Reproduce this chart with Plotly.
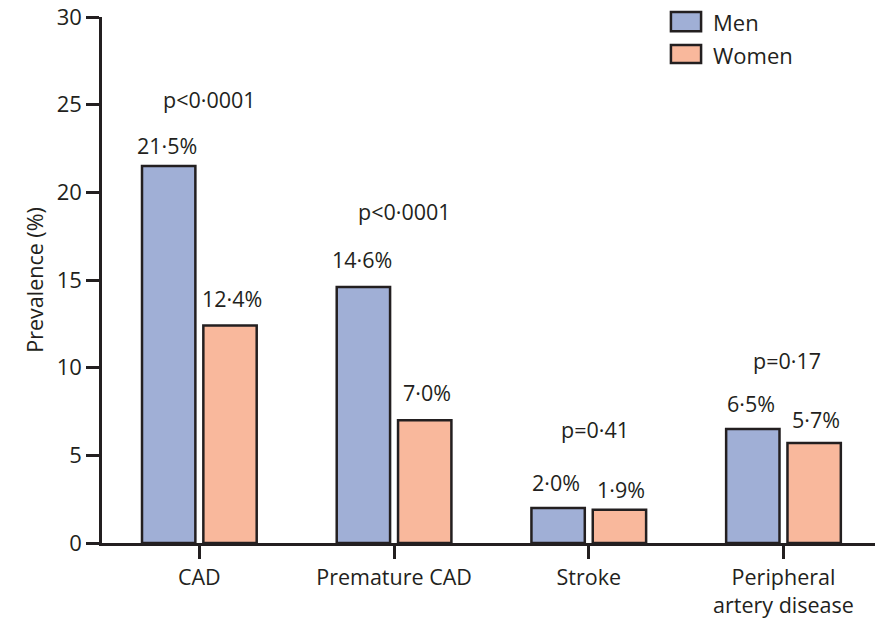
import plotly.graph_objects as go

categories = ["CAD", "Premature CAD", "Stroke", "Peripheral<br>artery disease"]
men = [21.5, 14.6, 2.0, 6.5]
women = [12.4, 7.0, 1.9, 5.7]
p_labels = ["p<0·0001", "p<0·0001", "p=0·41", "p=0·17"]
y_ticks = [0, 5, 10, 15, 20, 25, 30]
series_names = ["Men", "Women"]

# annotation placement (layout only)
p_label_y = [25.3, 18.9, 6.45, 10.4]
p_label_dx = [0.05, 0.055, 0.03, 0.02]
men_label_shift = [23, 30, 27, 28]
women_label_shift = [29, 30, 22, 26]

FONT = "Open Sans"
INK = "#231F20"
MEN_C = "#A0AFD6"
WOMEN_C = "#F9B89C"
FS = 21.5

def fmt(v):
    return f"{v:.1f}".replace(".", "·") + "%"

x_idx = list(range(len(categories)))

fig = go.Figure()
fig.add_trace(go.Bar(name=series_names[0], x=x_idx, y=men, marker=dict(color=MEN_C, line=dict(color=INK, width=2.5))))
fig.add_trace(go.Bar(name=series_names[1], x=x_idx, y=women, marker=dict(color=WOMEN_C, line=dict(color=INK, width=2.5))))

off = 0.167
for i in x_idx:
    fig.add_annotation(x=i - off, y=men[i], text=fmt(men[i]), showarrow=False, yanchor="middle",
                       yshift=men_label_shift[i] - 2,
                       xref="x", yref="y", font=dict(size=FS, color=INK, family=FONT))
    fig.add_annotation(x=i + off, y=women[i], text=fmt(women[i]), showarrow=False, yanchor="middle",
                       yshift=women_label_shift[i] - 2,
                       xref="x", yref="y", font=dict(size=FS, color=INK, family=FONT))
    fig.add_annotation(x=i + p_label_dx[i], y=p_label_y[i], text=p_labels[i], showarrow=False,
                       yanchor="middle", xref="x", yref="y", font=dict(size=FS, color=INK, family=FONT))

# custom legend (boxes + labels)
legend_boxes = [(0.973, 1.0095), (0.9125, 0.9468)]
legend_text_y = [0.9905, 0.928]
for name, col, (y0, y1), ty in zip(series_names, [MEN_C, WOMEN_C], legend_boxes, legend_text_y):
    fig.add_shape(type="rect", xref="paper", yref="paper", x0=0.736, x1=0.775, y0=y0, y1=y1,
                  fillcolor=col, line=dict(color=INK, width=2.5))
    fig.add_annotation(xref="paper", yref="paper", x=0.788, y=ty, text=name, showarrow=False,
                       xanchor="left", yanchor="middle", font=dict(size=22, color=INK, family=FONT))

fig.update_layout(
    width=875, height=619,
    margin=dict(l=102, r=0, t=17, b=76),
    plot_bgcolor="white", paper_bgcolor="white",
    font=dict(family=FONT, size=FS, color=INK),
    barmode="group", bargap=0.37, bargroupgap=0.13,
    showlegend=False,
    xaxis=dict(
        tickmode="array", tickvals=x_idx, ticktext=categories,
        range=[-0.5, 3.47], showline=True, linecolor=INK, linewidth=2.5,
        ticks="outside", ticklen=13, tickwidth=2.5, tickcolor=INK, tickson="boundaries",
        showgrid=False, zeroline=False, tickfont=dict(size=FS, color=INK),
    ),
    yaxis=dict(
        range=[0, 30], tickvals=y_ticks, showline=True, linecolor=INK, linewidth=2.5,
        ticks="outside", ticklen=13, tickwidth=2.5, tickcolor=INK,
        showgrid=False, zeroline=False, tickfont=dict(size=22, color=INK),
        title=dict(text="Prevalence (%)", font=dict(size=21.5, color=INK), standoff=8),
    ),
)

fig.write_html("out.html")
